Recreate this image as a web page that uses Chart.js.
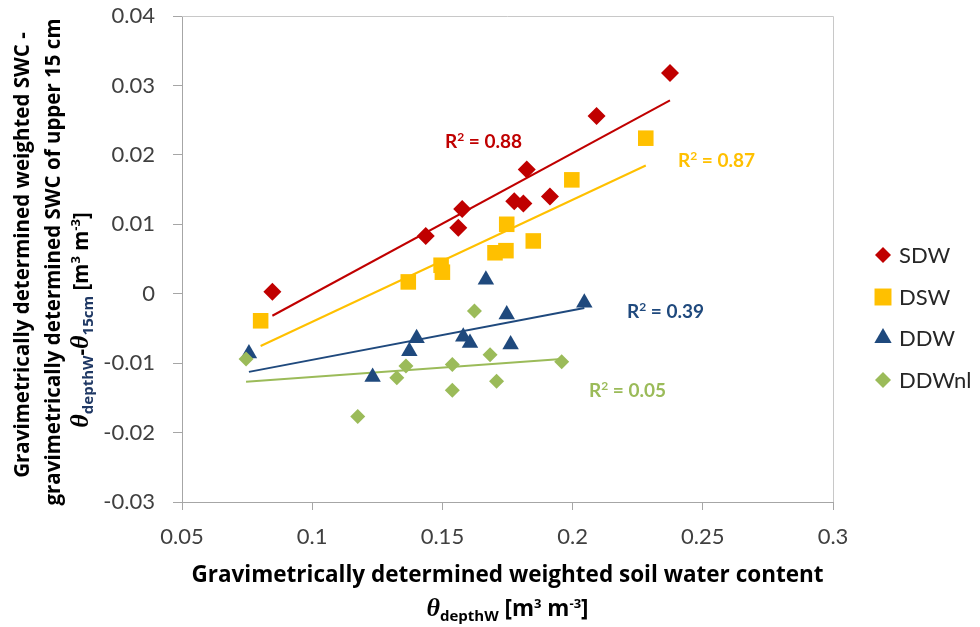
<!DOCTYPE html>
<html>
<head>
<meta charset="utf-8">
<title>Weighted soil water content vs. difference to upper 15 cm</title>
<script src="https://cdn.jsdelivr.net/npm/chart.js@4.4.1/dist/chart.umd.min.js"></script>
<style>
  html, body { margin: 0; padding: 0; background: #ffffff; }
  #c { display: block; }
</style>
</head>
<body>
<canvas id="c" width="980" height="627" style="width:980px;height:627px"></canvas>
<script>
// ---- data -------------------------------------------------------------
const seriesNames = ['SDW', 'DSW', 'DDW', 'DDWnl'];

const sdwX   = [0.0847, 0.1436, 0.1576, 0.1561, 0.1824, 0.1776, 0.1811, 0.1913, 0.2092, 0.2374];
const sdwY   = [0.0003, 0.0083, 0.0122, 0.0095, 0.0179, 0.0133, 0.0130, 0.0140, 0.0256, 0.0318];

const dswX   = [0.0802, 0.1369, 0.1495, 0.1500, 0.1702, 0.1744, 0.1747, 0.1849, 0.1997, 0.2281];
const dswY   = [-0.0039, 0.0017, 0.0041, 0.0031, 0.0059, 0.0062, 0.0100, 0.0076, 0.0164, 0.0224];

const ddwX   = [0.0757, 0.1232, 0.1373, 0.1401, 0.1580, 0.1606, 0.1667, 0.1747, 0.1762, 0.2045];
const ddwY   = [-0.0086, -0.0120, -0.0083, -0.0064, -0.0062, -0.0071, 0.0020, -0.0030, -0.0073, -0.0013];

const ddwnlX = [0.0746, 0.1175, 0.1325, 0.1360, 0.1538, 0.1538, 0.1623, 0.1683, 0.1708, 0.1958];
const ddwnlY = [-0.0094, -0.0177, -0.0121, -0.0104, -0.0102, -0.0139, -0.0025, -0.0088, -0.0126, -0.0098];

// coefficient of determination printed next to each trend line
const r2Values = ['0.88', '0.87', '0.39', '0.05'];

const xTicks = [0.05, 0.1, 0.15, 0.2, 0.25, 0.3];
const yTicks = [-0.03, -0.02, -0.01, 0, 0.01, 0.02, 0.03, 0.04];

// ---- styling ----------------------------------------------------------
const FONT = 'Lato, "Open Sans", "Liberation Sans", sans-serif';
const TITLE_FONT = '"Open Sans", Lato, "Liberation Sans", sans-serif';
const colors = ['#C00000', '#FFC000', '#1F497D', '#9BBB59'];
const pointStyles = ['rectRot', 'rect', 'triangle', 'rectRot'];
const pointRadii = [9, 11, 9.5, 7.5];
const legendRadii = [8, 12, 10, 8];
const AXIS_COLOR = '#A6A6A6';
const FRAME_COLOR = '#C8C8C8';

const xs = [sdwX, dswX, ddwX, ddwnlX];
const ys = [sdwY, dswY, ddwY, ddwnlY];

// ordinary least-squares fit, drawn over the range of x
function linearFit(x, y) {
  const n = x.length;
  const mx = x.reduce((a, b) => a + b, 0) / n;
  const my = y.reduce((a, b) => a + b, 0) / n;
  let sxy = 0, sxx = 0;
  for (let i = 0; i < n; i++) {
    sxy += (x[i] - mx) * (y[i] - my);
    sxx += (x[i] - mx) * (x[i] - mx);
  }
  const slope = sxy / sxx;
  const icpt = my - slope * mx;
  const x0 = Math.min(...x), x1 = Math.max(...x);
  return [{ x: x0, y: icpt + slope * x0 }, { x: x1, y: icpt + slope * x1 }];
}

const datasets = [];
seriesNames.forEach((name, i) => {
  datasets.push({
    label: name,
    data: xs[i].map((v, k) => ({ x: v, y: ys[i][k] })),
    pointStyle: pointStyles[i],
    pointRadius: pointRadii[i],
    pointHoverRadius: pointRadii[i],
    backgroundColor: colors[i],
    borderColor: colors[i],
    borderWidth: 0,
    showLine: false,
    order: 4 - i
  });
});
seriesNames.forEach((name, i) => {
  datasets.push({
    label: name + ' trend',
    data: linearFit(xs[i], ys[i]),
    showLine: true,
    pointRadius: 0,
    borderColor: colors[i],
    backgroundColor: colors[i],
    borderWidth: 2,
    fill: false,
    order: 10 + i
  });
});

// ---- rich text helpers (sub/superscripts) ---------------------------------
function partsWidth(ctx, parts) {
  let w = 0;
  parts.forEach(p => { ctx.font = p.font; w += ctx.measureText(p.text).width; });
  return w;
}
function drawParts(ctx, parts, x, y, align, color) {
  const w = partsWidth(ctx, parts);
  let cx = align === 'center' ? x - w / 2 : (align === 'right' ? x - w : x);
  ctx.textBaseline = 'alphabetic';
  ctx.textAlign = 'left';
  parts.forEach(p => {
    ctx.font = p.font;
    ctx.fillStyle = p.color || color;
    ctx.fillText(p.text, cx, y + (p.dy || 0));
    cx += ctx.measureText(p.text).width;
  });
}

const X_TITLE = 'bold 22.5px ' + TITLE_FONT;
const Y_TITLE = 'bold 20.5px ' + TITLE_FONT;
const SUB = 'bold 15px ' + TITLE_FONT;
const SUP = 'bold 13px ' + TITLE_FONT;
const THETA = 'italic bold 26px "Liberation Serif", "DejaVu Serif", serif';

const xTitle1 = [{ text: 'Gravimetrically determined weighted soil water content', font: X_TITLE }];
const xTitle2 = [
  { text: 'θ', font: THETA },
  { text: 'depthW', font: SUB, dy: 5 },
  { text: ' [m', font: X_TITLE },
  { text: '3', font: SUP, dy: -8 },
  { text: ' m', font: X_TITLE },
  { text: '-3', font: SUP, dy: -8 },
  { text: ']', font: X_TITLE }
];
const yTitle1 = [{ text: 'Gravimetrically determined weighted SWC -', font: Y_TITLE }];
const yTitle2 = [{ text: 'gravimetrically determined SWC of upper 15 cm', font: Y_TITLE }];
const yTitle3 = [
  { text: 'θ', font: THETA },
  { text: 'depthW', font: SUB, dy: 5, color: '#1F3864' },
  { text: '-', font: Y_TITLE },
  { text: 'θ', font: THETA },
  { text: '15cm', font: SUB, dy: 5, color: '#1F3864' },
  { text: ' [m', font: Y_TITLE },
  { text: '3', font: SUP, dy: -8 },
  { text: ' m', font: Y_TITLE },
  { text: '-3', font: SUP, dy: -8 },
  { text: ']', font: Y_TITLE }
];

// frame on the top and right of the plotting area
const framePlugin = {
  id: 'frame',
  beforeDatasetsDraw(chart) {
    const a = chart.chartArea, ctx = chart.ctx;
    ctx.save();
    ctx.strokeStyle = FRAME_COLOR;
    ctx.lineWidth = 1;
    ctx.beginPath();
    ctx.moveTo(a.left, a.top + 0.5);
    ctx.lineTo(a.right + 0.5, a.top + 0.5);
    ctx.lineTo(a.right + 0.5, a.bottom);
    ctx.stroke();
    ctx.restore();
  }
};

function drawMarker(ctx, style, r, x, y, color) {
  ctx.fillStyle = color;
  ctx.strokeStyle = color;
  if (Chart.helpers && Chart.helpers.drawPoint) {
    Chart.helpers.drawPoint(ctx, { pointStyle: style, radius: r, rotation: 0, borderWidth: 0 }, x, y);
    return;
  }
  ctx.beginPath();
  if (style === 'rect') {
    const s = Math.SQRT1_2 * r;
    ctx.rect(x - s, y - s, 2 * s, 2 * s);
  } else if (style === 'triangle') {
    ctx.moveTo(x, y - r);
    ctx.lineTo(x + r * Math.sin(2 * Math.PI / 3), y + r / 2);
    ctx.lineTo(x - r * Math.sin(2 * Math.PI / 3), y + r / 2);
    ctx.closePath();
  } else {
    ctx.moveTo(x - r, y); ctx.lineTo(x, y - r); ctx.lineTo(x + r, y); ctx.lineTo(x, y + r);
    ctx.closePath();
  }
  ctx.fill();
}

// axis titles, R² labels and legend
const textPlugin = {
  id: 'texts',
  afterDraw(chart) {
    const ctx = chart.ctx;
    const a = chart.chartArea;
    const midX = (a.left + a.right) / 2;
    ctx.save();

    // x axis title
    drawParts(ctx, xTitle1, midX, 582, 'center', '#000000');
    drawParts(ctx, xTitle2, midX, 616, 'center', '#000000');

    // y axis title (three rotated lines)
    const rot = (parts, bx, cy) => {
      ctx.save();
      ctx.translate(bx, cy);
      ctx.rotate(-Math.PI / 2);
      drawParts(ctx, parts, 0, 0, 'center', '#000000');
      ctx.restore();
    };
    rot(yTitle1, 29, 255);
    rot(yTitle2, 60, 262);
    rot(yTitle3, 88, 320);

    // R² labels
    const r2Pos = [[445, 148], [678, 167], [627, 318], [589, 397]];
    r2Values.forEach((v, i) => {
      const parts = [
        { text: 'R', font: 'bold 19px ' + FONT },
        { text: '2', font: 'bold 12px ' + FONT, dy: -7 },
        { text: ' = ' + v, font: 'bold 19px ' + FONT }
      ];
      drawParts(ctx, parts, r2Pos[i][0], r2Pos[i][1], 'left', colors[i]);
    });

    // legend
    const lx = 883, tx = 899;
    const rowY = [255, 297, 338, 380];
    seriesNames.forEach((name, i) => {
      drawMarker(ctx, pointStyles[i], legendRadii[i], lx, rowY[i], colors[i]);
      ctx.font = '22px ' + FONT;
      ctx.fillStyle = '#262626';
      ctx.textAlign = 'left';
      ctx.textBaseline = 'middle';
      ctx.fillText(name, tx, rowY[i] + 1);
    });
    ctx.restore();
  }
};

const fmt = v => String(Number(Number(v).toFixed(2)));

new Chart(document.getElementById('c'), {
  type: 'scatter',
  data: { datasets },
  options: {
    responsive: false,
    animation: false,
    devicePixelRatio: 1,
    layout: { padding: { top: 16, right: 147, left: 0, bottom: 0 } },
    plugins: {
      legend: { display: false },
      tooltip: { enabled: false }
    },
    scales: {
      x: {
        type: 'linear',
        min: 0.05,
        max: 0.3,
        afterBuildTicks: s => { s.ticks = xTicks.map(v => ({ value: v })); },
        afterFit: s => { s.height = 125; s.paddingLeft = 0; s.paddingRight = 0; },
        ticks: {
          font: { family: FONT, size: 22 },
          color: '#404040',
          padding: 14,
          maxRotation: 0,
          autoSkip: false,
          callback: v => fmt(v)
        },
        grid: { drawOnChartArea: false, drawTicks: true, tickLength: 8, color: AXIS_COLOR },
        border: { display: true, color: AXIS_COLOR, width: 1 }
      },
      y: {
        type: 'linear',
        min: -0.03,
        max: 0.04,
        afterBuildTicks: s => { s.ticks = yTicks.map(v => ({ value: v })); },
        afterFit: s => { s.width = 182; s.paddingTop = 0; s.paddingBottom = 0; },
        ticks: {
          font: { family: FONT, size: 22 },
          color: '#404040',
          padding: 18,
          autoSkip: false,
          callback: v => fmt(v)
        },
        grid: { drawOnChartArea: false, drawTicks: true, tickLength: 9, color: AXIS_COLOR },
        border: { display: true, color: AXIS_COLOR, width: 1 }
      }
    }
  },
  plugins: [framePlugin, textPlugin]
});
</script>
</body>
</html>
